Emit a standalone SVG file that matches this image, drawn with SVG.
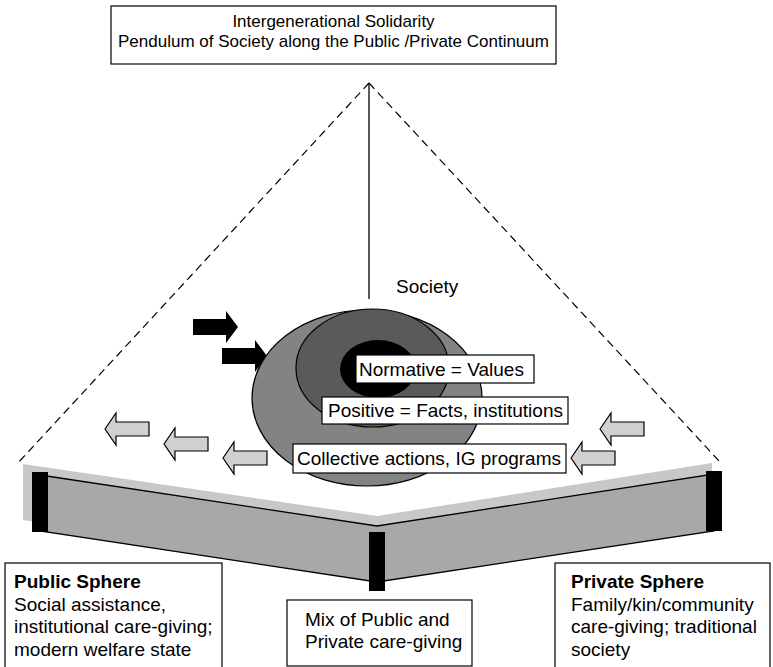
<svg xmlns="http://www.w3.org/2000/svg" width="773" height="667" viewBox="0 0 773 667">
<style>
text{font-family:"Liberation Sans",Arial,sans-serif;font-size:19px;fill:#000}
.title{font-size:17px}
.box{fill:#fff;stroke:#000;stroke-width:1.2}
.garrow{fill:#d0d0d0;stroke:#000;stroke-width:1.2}
.barrow{fill:#000}
.bar{fill:#000}
.dash{fill:none;stroke:#000;stroke-width:1.2;stroke-dasharray:8 5}
</style>
<defs>
<path id="la" d="M0,0 L11,-16 L11,-7 L44,-7 L44,7 L11,7 L11,16 Z"/>
<path id="ra" d="M0,0 L-12,-16 L-12,-8 L-45,-8 L-45,8 L-12,8 L-12,16 Z"/>
</defs>

<g id="connectors">
<line class="dash" x1="369" y1="83" x2="17" y2="464"/>
<line class="dash" x1="369" y1="83" x2="720" y2="462"/>
<line x1="369" y1="83" x2="369" y2="299" stroke="#000" stroke-width="1.3"/>
</g>

<g id="title">
<rect class="box" x="111" y="6" width="445" height="58"/>
<text class="title" x="333.5" y="27" text-anchor="middle">Intergenerational Solidarity</text>
<text class="title" x="333.5" y="47" text-anchor="middle">Pendulum of Society along the Public /Private Continuum</text>
</g>

<g id="beam">
<polygon points="23,464 377,516 712,463 712,520 377,572 23,520" fill="#c8c8c8"/>
<polygon points="40,475 377,526 714,474 714,531 377,582 40,531" fill="#a8a8a8" stroke="#000" stroke-width="1.3"/>
<rect class="bar" x="32" y="472" width="16" height="60"/>
<rect class="bar" x="369" y="532" width="16" height="59"/>
<rect class="bar" x="706" y="471" width="16" height="60"/>
</g>

<g id="push-arrows">
<use href="#ra" class="barrow" transform="translate(238,327)"/>
<use href="#ra" class="barrow" transform="translate(267,356)"/>
</g>

<g id="society">
<text x="396" y="293">Society</text>
<ellipse cx="367" cy="398" rx="115" ry="88" fill="#838383" stroke="#000" stroke-width="1.2"/>
<ellipse cx="372.5" cy="368" rx="76.5" ry="59" fill="#5a5a5a" stroke="#000" stroke-width="1.2"/>
<ellipse cx="378" cy="369" rx="38" ry="29" fill="#000"/>
</g>

<g id="left-arrows">
<use href="#la" class="garrow" transform="translate(105,429)"/>
<use href="#la" class="garrow" transform="translate(164,444)"/>
<use href="#la" class="garrow" transform="translate(223,458)"/>
</g>

<g id="right-arrows">
<use href="#la" class="garrow" transform="translate(600,429)"/>
<use href="#la" class="garrow" transform="translate(571,458)"/>
</g>

<g id="normative">
<rect class="box" x="356" y="355" width="178" height="28"/>
<text x="359" y="376">Normative = Values</text>
</g>
<g id="positive">
<rect class="box" x="322" y="397" width="246" height="27"/>
<text x="328" y="417">Positive = Facts, institutions</text>
</g>
<g id="collective">
<rect class="box" x="293" y="444" width="273" height="29"/>
<text x="297" y="465">Collective actions, IG programs</text>
</g>

<g id="public-sphere">
<rect class="box" x="5" y="563" width="217" height="110"/>
<text x="14" y="588" font-weight="bold">Public Sphere</text>
<text x="14" y="611">Social assistance,</text>
<text x="14" y="633">institutional care-giving;</text>
<text x="14" y="656">modern welfare state</text>
</g>

<g id="mix">
<rect class="box" x="287" y="600" width="185" height="66"/>
<text x="305" y="626">Mix of Public and</text>
<text x="305" y="648">Private care-giving</text>
</g>

<g id="private-sphere">
<rect class="box" x="555" y="563" width="215" height="110"/>
<text x="571" y="588" font-weight="bold">Private Sphere</text>
<text x="571" y="611">Family/kin/community</text>
<text x="571" y="633">care-giving; traditional</text>
<text x="571" y="656">society</text>
</g>
</svg>
